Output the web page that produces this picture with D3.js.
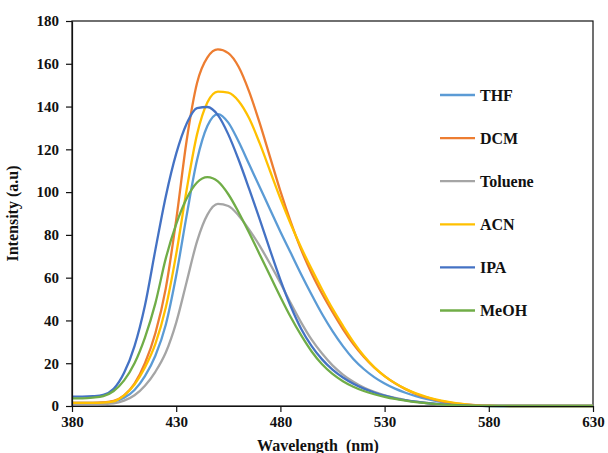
<!DOCTYPE html>
<html lang="en">
  <head>
    <meta charset="UTF-8" />
    <title>Emission spectra</title>
    <script src="https://d3js.org/d3.v7.min.js"></script>
    <style>
      body {
        margin: 0;
        background: #fff;
      }
      svg text {
        font-family: "Liberation Serif", "Times New Roman", serif;
        font-weight: bold;
        fill: #111;
      }
    </style>
  </head>
  <body>
    <svg id="chart" width="608" height="453"></svg>

    <script>
      // wavelength grid (nm)
      const wavelengths = [
        380, 385, 390, 395, 400, 405, 410, 415, 420, 425, 430, 435, 440, 445,
        450, 455, 460, 465, 470, 475, 480, 485, 490, 495, 500, 505, 510, 515,
        520, 525, 530, 535, 540, 545, 550, 555, 560, 565, 570, 575, 580, 585,
        590, 595, 600, 605, 610, 615, 620, 625, 630,
      ];

      // intensity values
      const thf = [
        1.5, 1.5, 1.5, 1.6, 2, 3.8, 7.5, 14, 23.5, 38, 61, 89, 115, 131, 136.5,
        132.5, 123.5, 113, 102.5, 92, 81.5, 71.5, 61.5, 52, 43, 35, 28, 22,
        17.3, 13.5, 10.5, 8.1, 6.2, 4.6, 3.3, 2.3, 1.5, 0.9, 0.5, 0.25, 0.1, 0,
        0, 0, 0, 0, 0, 0, 0, 0, 0,
      ];
      const dcm = [
        1.5, 1.5, 1.5, 1.7, 2.4, 5, 10.5, 20, 34, 55, 87, 124, 151, 163, 166.7,
        165, 158.5, 147, 132.5, 116.5, 100.5, 86, 73, 62, 52.5, 44, 36, 29, 23,
        18, 14, 10.6, 7.9, 5.7, 4, 2.8, 1.8, 1.1, 0.6, 0.3, 0.12, 0.04, 0, 0, 0,
        0, 0, 0, 0, 0, 0,
      ];
      const toluene = [
        0.8, 0.8, 0.8, 0.9, 1.2, 2.5, 5, 9.5, 16, 25, 39, 58, 77, 89.5, 94.5,
        93.5, 89, 82.5, 75, 66.5, 57.5, 48, 39, 31, 24.5, 19, 14.7, 11.3, 8.6,
        6.6, 5, 3.8, 2.8, 2, 1.4, 0.9, 0.55, 0.3, 0.12, 0.04, 0, 0, 0, 0, 0, 0,
        0, 0, 0, 0, 0,
      ];
      const acn = [
        1.5, 1.5, 1.5, 1.6, 2.2, 5, 10, 18, 29, 46, 71, 101, 127, 142, 147,
        146.5, 142.5, 134.5, 123, 110, 97, 85, 74, 64, 54.5, 45.5, 37.5, 30,
        23.5, 18.2, 14, 10.7, 8, 5.9, 4.3, 3, 2, 1.2, 0.65, 0.3, 0.12, 0.04, 0,
        0, 0, 0, 0, 0, 0, 0, 0,
      ];
      const ipa = [
        4.4, 4.4, 4.6, 5.2, 8, 15.5, 28, 47, 73, 98, 118, 132, 139.3, 139.8,
        136, 127, 115, 101.5, 87.5, 73, 59, 46.5, 36, 28, 21.8, 17, 13.3, 10.4,
        8.1, 6.3, 4.8, 3.6, 2.7, 2, 1.4, 0.95, 0.6, 0.35, 0.17, 0.06, 0, 0, 0,
        0, 0, 0, 0, 0, 0, 0, 0,
      ];
      const meoh = [
        3.6, 3.6, 3.9, 4.6, 7, 12, 20, 32, 48, 69, 85, 97, 104.5, 107, 105, 99,
        90.5, 81, 71, 61, 51, 41.5, 33, 25.5, 19.5, 15, 11.6, 9, 7, 5.5, 4.3,
        3.3, 2.5, 1.8, 1.3, 0.9, 0.55, 0.3, 0.12, 0.04, 0, 0, 0, 0, 0, 0, 0, 0,
        0, 0, 0,
      ];

      const seriesNames = ["THF", "DCM", "Toluene", "ACN", "IPA", "MeOH"];
      const seriesValues = [thf, dcm, toluene, acn, ipa, meoh];
      const colors = [
        "#5B9BD5",
        "#ED7D31",
        "#A5A5A5",
        "#FFC000",
        "#4472C4",
        "#70AD47",
      ];

      const xTicks = [380, 430, 480, 530, 580, 630];
      const yTicks = [0, 20, 40, 60, 80, 100, 120, 140, 160, 180];

      const margin = { top: 21, right: 15, bottom: 47, left: 72 };
      const width = 608 - margin.left - margin.right;
      const height = 453 - margin.top - margin.bottom;

      const svg = d3
        .select("#chart")
        .append("g")
        .attr("transform", `translate(${margin.left}, ${margin.top})`);

      const x = d3.scaleLinear().domain([380, 630]).range([0, width]);
      const y = d3.scaleLinear().domain([0, 180]).range([height, 0]);

      // plot frame
      svg
        .append("rect")
        .attr("x", 0)
        .attr("y", 0)
        .attr("width", width)
        .attr("height", height)
        .attr("fill", "none")
        .attr("stroke", "#111")
        .attr("stroke-width", 1.2);

      // curves
      const line = d3
        .line()
        .x((d, i) => x(wavelengths[i]))
        .y((d) => y(d))
        .curve(d3.curveMonotoneX);

      seriesValues.forEach((vals, k) => {
        svg
          .append("path")
          .attr("d", line(vals))
          .attr("fill", "none")
          .attr("stroke", colors[k])
          .attr("stroke-width", 2.3)
          .attr("stroke-linejoin", "round");
      });

      // axes
      const xAxis = svg
        .append("g")
        .attr("transform", `translate(0, ${height})`)
        .call(
          d3.axisBottom(x).tickValues(xTicks).tickSize(6).tickSizeOuter(0).tickPadding(4)
        );
      const yAxis = svg
        .append("g")
        .call(
          d3.axisLeft(y).tickValues(yTicks).tickSize(6).tickSizeOuter(0).tickPadding(7)
        );

      [xAxis, yAxis].forEach((ax) => {
        ax.select(".domain").attr("stroke", "#111").attr("stroke-width", 1.2);
        ax.selectAll(".tick line").attr("stroke", "#111").attr("stroke-width", 1.2);
        ax.selectAll(".tick text")
          .style("font-size", "15px")
          .style("font-family", '"Liberation Serif", "Times New Roman", serif')
          .style("font-weight", "bold")
          .attr("fill", "#111");
      });

      // axis titles
      svg
        .append("text")
        .attr("x", 246)
        .attr("y", height + 45)
        .attr("text-anchor", "middle")
        .attr("xml:space", "preserve")
        .style("font-size", "16px")
        .text("Wavelength  (nm)");

      svg
        .append("text")
        .attr("transform", `translate(-54, ${height / 2}) rotate(-90)`)
        .attr("text-anchor", "middle")
        .style("font-size", "16px")
        .text("Intensity (a.u)");

      // legend
      const legend = svg
        .append("g")
        .attr("transform", "translate(368, 74)");

      seriesNames.forEach((name, i) => {
        const row = legend.append("g").attr("transform", `translate(0, ${i * 43.1})`);
        row
          .append("line")
          .attr("x1", 0)
          .attr("x2", 35)
          .attr("stroke", colors[i])
          .attr("stroke-width", 2.3);
        row
          .append("text")
          .attr("x", 40)
          .attr("dy", "0.35em")
          .style("font-size", "16px")
          .text(name);
      });
    </script>
  </body>
</html>
